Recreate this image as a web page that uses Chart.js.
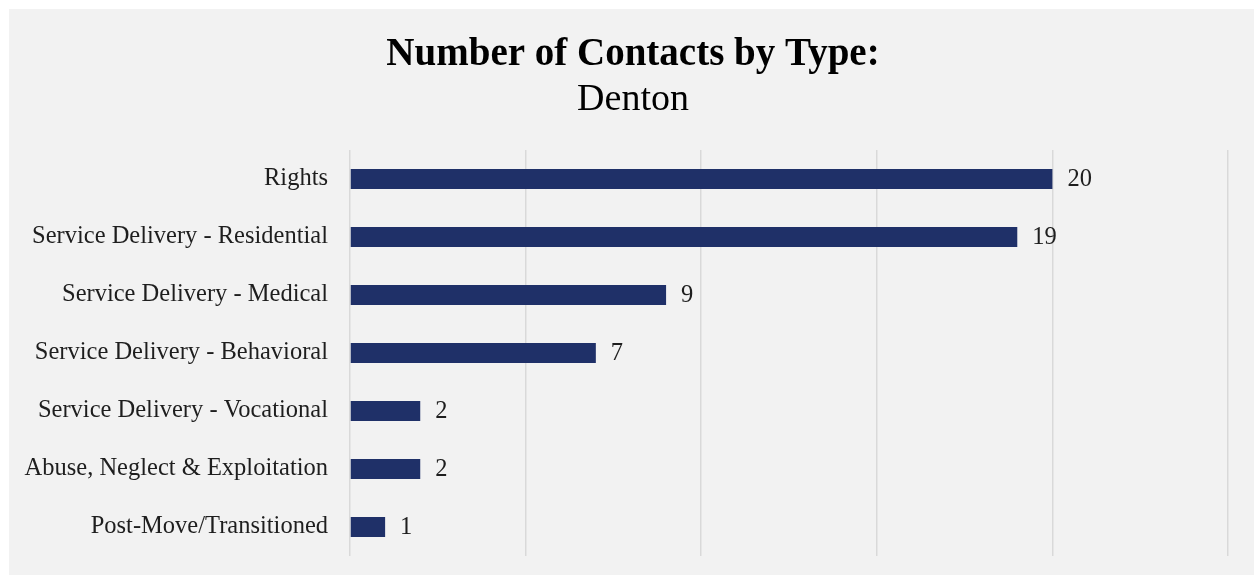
<!DOCTYPE html>
<html>
<head>
<meta charset="utf-8">
<script src="https://cdn.jsdelivr.net/npm/chart.js@4/dist/chart.umd.min.js"></script>
<style>
  html, body { margin: 0; padding: 0; background: #ffffff; }
  #wrap { position: relative; width: 1254px; height: 578px; }
</style>
</head>
<body>
<div id="wrap"><canvas id="chart" width="1254" height="578"></canvas></div>
<script>
// Contact categories and counts
const categories = [
  'Rights',
  'Service Delivery - Residential',
  'Service Delivery - Medical',
  'Service Delivery - Behavioral',
  'Service Delivery - Vocational',
  'Abuse, Neglect & Exploitation',
  'Post-Move/Transitioned'
];
const contacts = [20, 19, 9, 7, 2, 2, 1];

// Value axis range
const axisMin = 0;
const axisMax = 25;
const axisStep = 5;

const titleText = 'Number of Contacts by Type:';
const subtitleText = 'Denton';

const FONT = '"Liberation Serif", "Times New Roman", serif';
const TEXT_COLOR = '#1e1e1e';
const BAR_COLOR = '#1f3068';

// Light panel behind the chart
const panelPlugin = {
  id: 'panel',
  beforeDraw(chart) {
    const ctx = chart.ctx;
    ctx.save();
    ctx.fillStyle = '#f2f2f2';
    ctx.fillRect(9, 9, chart.width - 9, chart.height - 12);
    ctx.restore();
  }
};

// Two-line heading centred over the panel
const headingPlugin = {
  id: 'heading',
  afterDraw(chart) {
    const ctx = chart.ctx;
    const cx = 633;
    ctx.save();
    ctx.fillStyle = '#000000';
    ctx.textAlign = 'center';
    ctx.textBaseline = 'alphabetic';
    ctx.font = 'bold 39px ' + FONT;
    ctx.fillText(titleText, cx, 65);
    ctx.font = '38px ' + FONT;
    ctx.fillText(subtitleText, cx, 110);
    ctx.restore();
  }
};

// Count printed just past the end of each bar
const valueLabelPlugin = {
  id: 'valueLabels',
  afterDatasetsDraw(chart) {
    const ctx = chart.ctx;
    const meta = chart.getDatasetMeta(0);
    ctx.save();
    ctx.fillStyle = TEXT_COLOR;
    ctx.font = '24.5px ' + FONT;
    ctx.textAlign = 'left';
    ctx.textBaseline = 'middle';
    meta.data.forEach((bar, i) => {
      ctx.fillText(String(contacts[i]), bar.x + 15, bar.y + 1);
    });
    ctx.restore();
  }
};

new Chart(document.getElementById('chart'), {
  type: 'bar',
  data: {
    labels: categories,
    datasets: [{
      data: contacts,
      backgroundColor: BAR_COLOR,
      borderWidth: 0,
      barPercentage: 0.345,
      categoryPercentage: 1.0
    }]
  },
  options: {
    indexAxis: 'y',
    responsive: false,
    animation: false,
    devicePixelRatio: 1,
    layout: { padding: { left: 0, right: 26, top: 150, bottom: 22 } },
    plugins: {
      legend: { display: false },
      title: { display: false },
      tooltip: { enabled: false }
    },
    scales: {
      x: {
        min: axisMin,
        max: axisMax,
        ticks: { display: false, stepSize: axisStep },
        grid: { color: '#d9d9d9', lineWidth: 1.5, drawTicks: false },
        border: { display: false },
        afterFit(scale) { scale.height = 0; }
      },
      y: {
        ticks: {
          color: TEXT_COLOR,
          font: { family: FONT, size: 24.5 },
          padding: 22
        },
        grid: { display: false, drawTicks: false },
        border: { display: false },
        afterFit(scale) {
          scale.width = 350;
          scale.paddingTop = 0;
          scale.paddingBottom = 0;
        }
      }
    }
  },
  plugins: [panelPlugin, headingPlugin, valueLabelPlugin]
});
</script>
</body>
</html>
